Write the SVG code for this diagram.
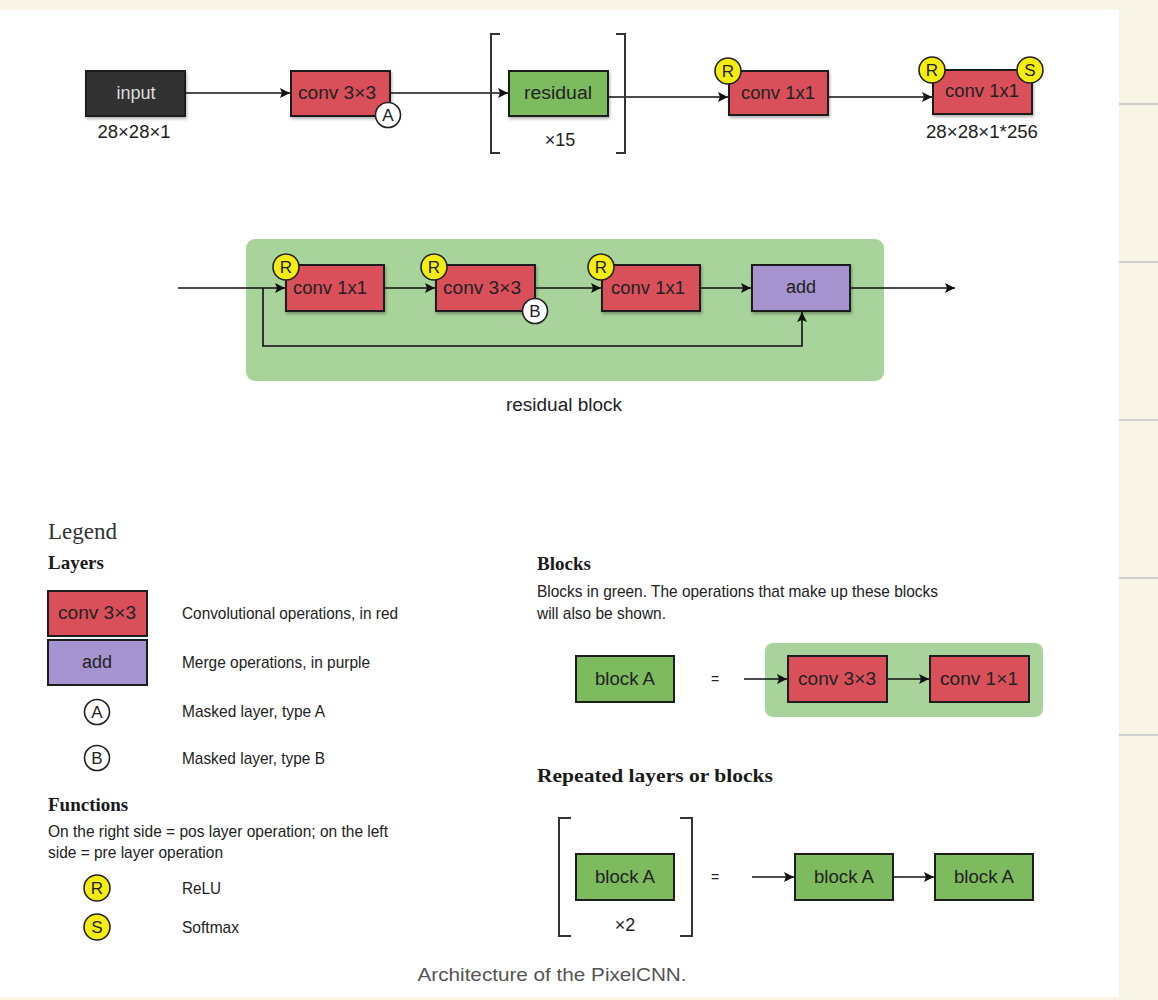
<svg xmlns="http://www.w3.org/2000/svg" width="1158" height="1000" viewBox="0 0 1158 1000">
<defs>
<style>
.bg{fill:#f8f5e7}
.panel{fill:#ffffff}
.sep{stroke:#cfcfcb;stroke-width:2}
.box{stroke:#1e1e1e;stroke-width:2}
.red{fill:#d9505a}
.grn{fill:#7dbb5e}
.pur{fill:#a594d0}
.blk{fill:#333333}
.gbg{fill:#a8d39a}
.t{font-family:"Liberation Sans",Arial,sans-serif;font-size:18px;fill:#222;text-anchor:middle}
.tw{fill:#dddddd}
.lt{font-family:"Liberation Sans",Arial,sans-serif;font-size:17px;fill:#222}
.dim{font-family:"Liberation Sans",Arial,sans-serif;font-size:18px;fill:#222;text-anchor:middle}
.h{font-family:"Liberation Serif","Times New Roman",serif;font-weight:bold;font-size:19px;fill:#1a1a1a}
.leg{font-family:"Liberation Serif","Times New Roman",serif;font-size:23px;fill:#333}
.cap{font-family:"Liberation Sans",Arial,sans-serif;font-size:19px;fill:#555;text-anchor:middle}
.yc{fill:#f4ee10;stroke:#222;stroke-width:1.6}
.wc{fill:#ffffff;stroke:#222;stroke-width:1.6}
.ct{font-family:"Liberation Sans",Arial,sans-serif;font-size:17px;fill:#222;text-anchor:middle}
.ln{stroke:#111;stroke-width:1.6;fill:none}
.br{stroke:#333;stroke-width:2;fill:none}
</style>
<marker id="ah" viewBox="0 0 10 10" refX="10" refY="5" markerWidth="10" markerHeight="10" markerUnits="userSpaceOnUse" orient="auto">
<path d="M0,0 L10,5 L0,10 L2,5 z" fill="#111"/>
</marker>
<filter id="sh" x="-10%" y="-10%" width="130%" height="140%">
<feDropShadow dx="1" dy="2" stdDeviation="1.5" flood-color="#000" flood-opacity="0.3"/>
</filter>
</defs>

<rect class="bg" x="0" y="0" width="1158" height="1000"/>
<rect class="panel" x="0" y="10" width="1119" height="987"/>
<g id="side-lines">
<line class="sep" x1="1119" y1="104" x2="1158" y2="104"/>
<line class="sep" x1="1119" y1="262" x2="1158" y2="262"/>
<line class="sep" x1="1119" y1="420" x2="1158" y2="420"/>
<line class="sep" x1="1119" y1="578" x2="1158" y2="578"/>
<line class="sep" x1="1119" y1="735" x2="1158" y2="735"/>
</g>

<g id="residual-block-bg">
<rect class="gbg" x="246" y="239" width="638" height="142" rx="9"/>
<text class="dim" x="564" y="411" textLength="116" lengthAdjust="spacingAndGlyphs">residual block</text>
</g>
<g id="blocks-bg">
<rect class="gbg" x="765" y="643" width="278" height="74" rx="8"/>
</g>

<g id="connectors">
<line class="ln" x1="185" y1="93" x2="290" y2="93" marker-end="url(#ah)"/>
<line class="ln" x1="390" y1="93" x2="508" y2="93" marker-end="url(#ah)"/>
<line class="ln" x1="608" y1="97" x2="728" y2="97" marker-end="url(#ah)"/>
<line class="ln" x1="828" y1="97" x2="932" y2="97" marker-end="url(#ah)"/>
<line class="ln" x1="178" y1="288" x2="285" y2="288" marker-end="url(#ah)"/>
<line class="ln" x1="384" y1="288" x2="435" y2="288" marker-end="url(#ah)"/>
<line class="ln" x1="535" y1="288" x2="601" y2="288" marker-end="url(#ah)"/>
<line class="ln" x1="700" y1="288" x2="751" y2="288" marker-end="url(#ah)"/>
<line class="ln" x1="850" y1="288" x2="955" y2="288" marker-end="url(#ah)"/>
<polyline class="ln" points="263,288 263,346 802,346 802,312" marker-end="url(#ah)"/>
<line class="ln" x1="744" y1="679" x2="787" y2="679" marker-end="url(#ah)"/>
<line class="ln" x1="887" y1="679" x2="929" y2="679" marker-end="url(#ah)"/>
<line class="ln" x1="752" y1="877" x2="794" y2="877" marker-end="url(#ah)"/>
<line class="ln" x1="893" y1="877" x2="934" y2="877" marker-end="url(#ah)"/>
</g>

<g id="input">
<rect class="box blk" x="86" y="71" width="99" height="45" filter="url(#sh)"/>
<text class="t tw" x="136" y="99">input</text>
<text class="dim" x="134" y="138" textLength="73" lengthAdjust="spacingAndGlyphs">28×28×1</text>
</g>
<g id="conv3x3-A">
<rect class="box red" x="291" y="71" width="99" height="45" filter="url(#sh)"/>
<text class="t" x="337" y="99" textLength="78" lengthAdjust="spacingAndGlyphs">conv 3×3</text>
<circle class="wc" cx="388" cy="115" r="12.5"/>
<text class="ct" x="388" y="121">A</text>
</g>
<g id="residual-repeat">
<path class="br" d="M500,34 L491,34 L491,153 L500,153"/>
<path class="br" d="M616,34 L625,34 L625,153 L616,153"/>
<rect class="box grn" x="509" y="71" width="99" height="45" filter="url(#sh)"/>
<text class="t" x="558" y="99" textLength="68" lengthAdjust="spacingAndGlyphs">residual</text>
<text class="dim" x="560" y="146">×15</text>
</g>
<g id="conv1x1-a">
<rect class="box red" x="729" y="71" width="99" height="44" filter="url(#sh)"/>
<text class="t" x="778" y="99" textLength="74" lengthAdjust="spacingAndGlyphs">conv 1x1</text>
<circle class="yc" cx="728" cy="71" r="13"/>
<text class="ct" x="728" y="77">R</text>
</g>
<g id="conv1x1-b">
<rect class="box red" x="933" y="70" width="99" height="44" filter="url(#sh)"/>
<text class="t" x="982" y="97" textLength="74" lengthAdjust="spacingAndGlyphs">conv 1x1</text>
<circle class="yc" cx="932" cy="70" r="13"/>
<text class="ct" x="932" y="76">R</text>
<circle class="yc" cx="1030" cy="70" r="13"/>
<text class="ct" x="1030" y="76">S</text>
<text class="dim" x="982" y="138" textLength="112" lengthAdjust="spacingAndGlyphs">28×28×1*256</text>
</g>

<g id="rb-conv1x1-1">
<rect class="box red" x="286" y="265" width="98" height="46" filter="url(#sh)"/>
<text class="t" x="330" y="294" textLength="74" lengthAdjust="spacingAndGlyphs">conv 1x1</text>
<circle class="yc" cx="286" cy="267" r="13"/>
<text class="ct" x="286" y="273">R</text>
</g>
<g id="rb-conv3x3">
<rect class="box red" x="436" y="265" width="99" height="46" filter="url(#sh)"/>
<text class="t" x="482" y="294" textLength="78" lengthAdjust="spacingAndGlyphs">conv 3×3</text>
<circle class="yc" cx="434" cy="267" r="13"/>
<text class="ct" x="434" y="273">R</text>
<circle class="wc" cx="535" cy="311" r="12.5"/>
<text class="ct" x="535" y="317">B</text>
</g>
<g id="rb-conv1x1-2">
<rect class="box red" x="602" y="265" width="98" height="46" filter="url(#sh)"/>
<text class="t" x="648" y="294" textLength="74" lengthAdjust="spacingAndGlyphs">conv 1x1</text>
<circle class="yc" cx="601" cy="267" r="13"/>
<text class="ct" x="601" y="273">R</text>
</g>
<g id="rb-add">
<rect class="box pur" x="752" y="265" width="98" height="46" filter="url(#sh)"/>
<text class="t" x="801" y="293">add</text>
</g>

<g id="legend-left">
<text class="leg" x="48" y="539">Legend</text>
<text class="h" x="48" y="569">Layers</text>
<rect class="box red" x="48" y="591" width="99" height="45"/>
<text class="t" x="97" y="619" textLength="78" lengthAdjust="spacingAndGlyphs">conv 3×3</text>
<text class="lt" x="182" y="619" textLength="216" lengthAdjust="spacingAndGlyphs">Convolutional operations, in red</text>
<rect class="box pur" x="48" y="640" width="99" height="45"/>
<text class="t" x="97" y="668">add</text>
<text class="lt" x="182" y="668" textLength="188" lengthAdjust="spacingAndGlyphs">Merge operations, in purple</text>
<circle class="wc" cx="97" cy="712" r="12.5"/>
<text class="ct" x="97" y="718">A</text>
<text class="lt" x="182" y="717" textLength="143" lengthAdjust="spacingAndGlyphs">Masked layer, type A</text>
<circle class="wc" cx="97" cy="758" r="12.5"/>
<text class="ct" x="97" y="764">B</text>
<text class="lt" x="182" y="764" textLength="143" lengthAdjust="spacingAndGlyphs">Masked layer, type B</text>
<text class="h" x="48" y="811">Functions</text>
<text class="lt" x="48" y="837" textLength="340" lengthAdjust="spacingAndGlyphs">On the right side = pos layer operation; on the left</text>
<text class="lt" x="48" y="858" textLength="175" lengthAdjust="spacingAndGlyphs">side = pre layer operation</text>
<circle class="yc" cx="97" cy="888" r="13"/>
<text class="ct" x="97" y="894">R</text>
<text class="lt" x="182" y="894" textLength="39" lengthAdjust="spacingAndGlyphs">ReLU</text>
<circle class="yc" cx="97" cy="927" r="13"/>
<text class="ct" x="97" y="933">S</text>
<text class="lt" x="182" y="933" textLength="57" lengthAdjust="spacingAndGlyphs">Softmax</text>
</g>

<g id="legend-right">
<text class="h" x="537" y="570">Blocks</text>
<text class="lt" x="537" y="597" textLength="401" lengthAdjust="spacingAndGlyphs">Blocks in green. The operations that make up these blocks</text>
<text class="lt" x="537" y="619" textLength="129" lengthAdjust="spacingAndGlyphs">will also be shown.</text>
<text class="h" x="537" y="782" textLength="236" lengthAdjust="spacingAndGlyphs">Repeated layers or blocks</text>
</g>
<g id="blockA-def">
<rect class="box grn" x="576" y="656" width="98" height="46"/>
<text class="t" x="625" y="685" textLength="60" lengthAdjust="spacingAndGlyphs">block A</text>
<text class="t" x="715" y="684" style="font-size:14px">=</text>
</g>
<g id="blockA-conv3x3">
<rect class="box red" x="788" y="656" width="99" height="46"/>
<text class="t" x="837" y="685" textLength="78" lengthAdjust="spacingAndGlyphs">conv 3×3</text>
</g>
<g id="blockA-conv1x1">
<rect class="box red" x="930" y="656" width="99" height="46"/>
<text class="t" x="979" y="685" textLength="78" lengthAdjust="spacingAndGlyphs">conv 1×1</text>
</g>
<g id="repeat-blockA">
<path class="br" d="M571,818 L559,818 L559,936 L571,936"/>
<path class="br" d="M680,818 L692,818 L692,936 L680,936"/>
<rect class="box grn" x="576" y="854" width="98" height="46"/>
<text class="t" x="625" y="883" textLength="60" lengthAdjust="spacingAndGlyphs">block A</text>
<text class="dim" x="625" y="931">×2</text>
<text class="t" x="715" y="882" style="font-size:14px">=</text>
</g>
<g id="blockA-1">
<rect class="box grn" x="795" y="854" width="98" height="46"/>
<text class="t" x="844" y="883" textLength="60" lengthAdjust="spacingAndGlyphs">block A</text>
</g>
<g id="blockA-2">
<rect class="box grn" x="935" y="854" width="98" height="46"/>
<text class="t" x="984" y="883" textLength="60" lengthAdjust="spacingAndGlyphs">block A</text>
</g>

<text class="cap" x="552" y="981" textLength="269" lengthAdjust="spacingAndGlyphs">Architecture of the PixelCNN.</text>
</svg>
